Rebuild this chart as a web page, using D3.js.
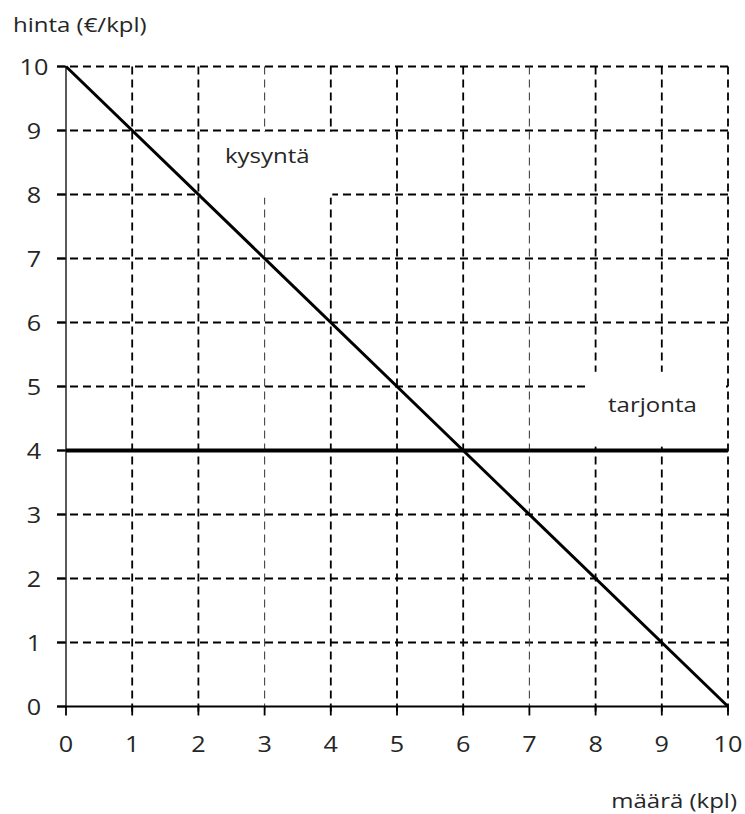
<!DOCTYPE html>
<html>
<head>
<meta charset="utf-8">
<script src="https://cdn.jsdelivr.net/npm/d3@7"></script>
<style>
  body { margin: 0; background: #fff; }
  text { font-family: "Open Sans", Lato, sans-serif; fill: #262626; }
</style>
</head>
<body>
<div id="chart"></div>
<script>
// data
var xTicks = [0, 1, 2, 3, 4, 5, 6, 7, 8, 9, 10];
var yTicks = [0, 1, 2, 3, 4, 5, 6, 7, 8, 9, 10];
var demandQ = [0, 10];
var demandP = [10, 0];
var supplyQ = [0, 10];
var supplyP = [4, 4];
var yTitle = "hinta (€/kpl)";
var xTitle = "määrä (kpl)";
var demandLabel = "kysyntä";
var supplyLabel = "tarjonta";

var w = 745, h = 814, stretch = 1.2;

var x = d3.scaleLinear().domain([0, 10]).range([66, 728]);
var y = d3.scaleLinear().domain([0, 10]).range([706.5, 66.5]);

var svg = d3.select("#chart").append("svg")
	.attr("width", w)
	.attr("height", h);

// dashed grid, ticks stick out past the axes
var grid = svg.append("g").attr("fill", "none").attr("stroke", "#000").attr("stroke-dasharray", "8,5");

grid.selectAll("line.h").data(yTicks.filter(function(d){ return d > 0; }))
	.enter().append("line")
	.attr("x1", x(0) - 9).attr("x2", x(10))
	.attr("y1", function(d){ return y(d); }).attr("y2", function(d){ return y(d); })
	.attr("stroke-width", 1.8);

grid.selectAll("line.v").data(xTicks.filter(function(d){ return d > 0; }))
	.enter().append("line")
	.attr("x1", function(d){ return x(d); }).attr("x2", function(d){ return x(d); })
	.attr("y1", y(10)).attr("y2", y(0) + 9)
	.attr("stroke-width", function(d){ return (d === 3 || d === 7) ? 1.1 : 1.8; })
	.attr("stroke", function(d){ return (d === 3 || d === 7) ? "#444" : "#000"; });

// white boxes behind the curve labels
svg.append("rect")
	.attr("x", x(2) + 2).attr("width", x(4) + 1.5 - x(2) - 2)
	.attr("y", y(9) + 1.5).attr("height", y(7.95) - y(9) - 1.5)
	.attr("fill", "#fff");

svg.append("rect")
	.attr("x", x(7.85)).attr("width", x(10) - 2 - x(7.85))
	.attr("y", y(5.23)).attr("height", y(4.06) - y(5.23))
	.attr("fill", "#fff");

// axes
svg.append("line")
	.attr("x1", x(0)).attr("x2", x(0))
	.attr("y1", y(0)).attr("y2", y(10))
	.attr("stroke", "#000").attr("stroke-width", 1.3);

svg.append("line")
	.attr("x1", x(0) - 9).attr("x2", x(10))
	.attr("y1", y(0)).attr("y2", y(0))
	.attr("stroke", "#000").attr("stroke-width", 2);

svg.selectAll("line.xt").data(xTicks)
	.enter().append("line")
	.attr("x1", function(d){ return x(d); }).attr("x2", function(d){ return x(d); })
	.attr("y1", y(0)).attr("y2", y(0) + 9)
	.attr("stroke", "#000").attr("stroke-width", 1.8);

svg.selectAll("line.yt").data(yTicks)
	.enter().append("line")
	.attr("x1", x(0) - 9).attr("x2", x(0))
	.attr("y1", function(d){ return y(d); }).attr("y2", function(d){ return y(d); })
	.attr("stroke", "#000").attr("stroke-width", 1.8);

// curves
var line = d3.line()
	.x(function(d){ return x(d[0]); })
	.y(function(d){ return y(d[1]); });

svg.append("path")
	.attr("d", line(d3.zip(supplyQ, supplyP)))
	.attr("fill", "none").attr("stroke", "#000").attr("stroke-width", 4);

svg.append("path")
	.attr("d", line(d3.zip(demandQ, demandP)))
	.attr("fill", "none").attr("stroke", "#000").attr("stroke-width", 3);

// text, stretched a little sideways like the source
function label(tx, ty, str, anchor, size) {
	svg.append("text")
		.attr("transform", "translate(" + tx + "," + ty + ") scale(" + stretch + ",1)")
		.attr("text-anchor", anchor)
		.attr("font-size", size)
		.text(str);
}

xTicks.forEach(function(d){ label(x(d), 752, d, "middle", 21); });
yTicks.forEach(function(d){ label(34, y(d) + 8, d, "middle", 21); });

label(13, 32, yTitle, "start", 20);
label(737, 808, xTitle, "end", 20);
label(225, 163, demandLabel, "start", 20);
label(608, 412, supplyLabel, "start", 20);
</script>
</body>
</html>
